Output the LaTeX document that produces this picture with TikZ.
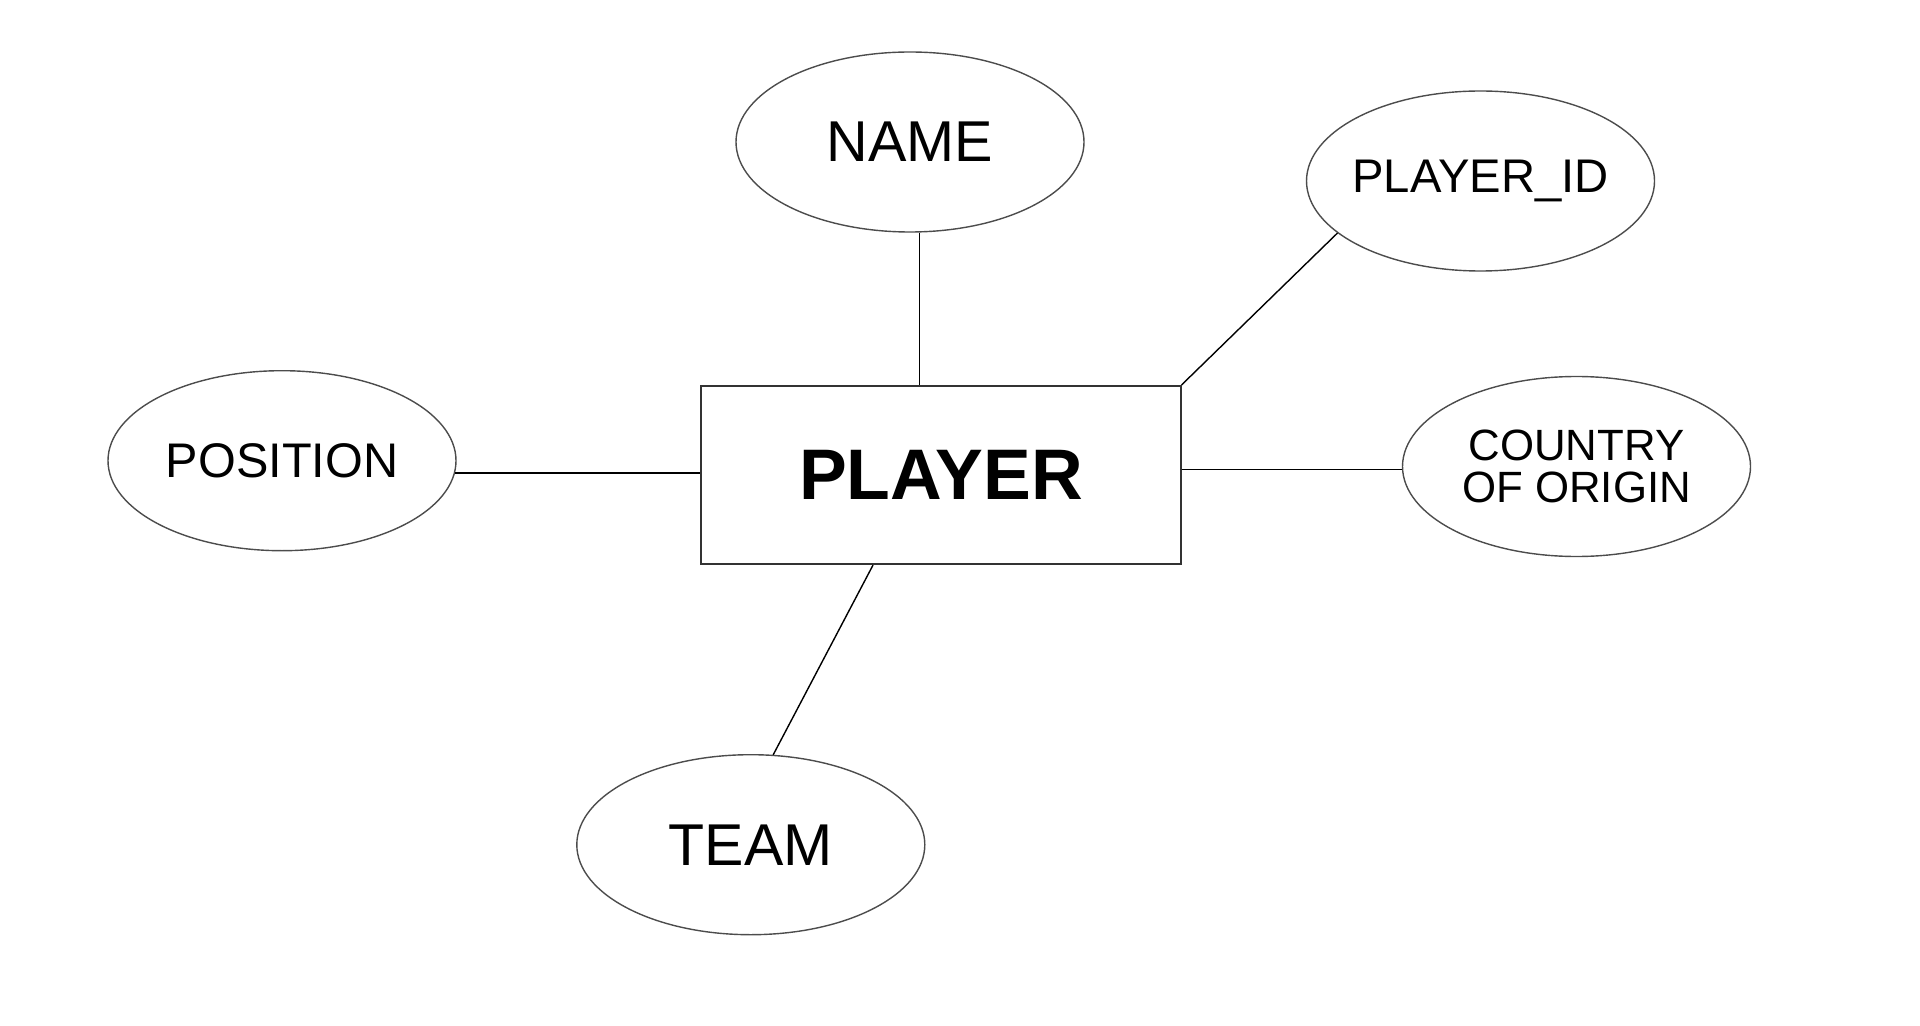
\documentclass[tikz,border=0pt]{standalone}
\usepackage{fontspec}
\setmainfont{Liberation Sans}
\usetikzlibrary{shapes.geometric}
\begin{document}
\begin{tikzpicture}[x=0.5pt,y=-0.5pt,
        attr/.style={ellipse, draw=black!70, line width=0.7pt, inner sep=0pt,
            minimum width=174pt, minimum height=90pt},
        entity/.style={rectangle, draw=black!80, line width=0.9pt, inner sep=0pt,
            minimum width=239.7pt, minimum height=89.2pt},
        link/.style={line width=0.7pt}]
    \useasboundingbox (0,0) rectangle (1920,1026);
    \node[entity, font=\fontsize{35.8}{38}\selectfont\bfseries] (player) at (941,475) {PLAYER};
    \node[attr, font=\fontsize{28.8}{30}\selectfont] (name) at (910,142) {NAME};
    \node[attr, inner xsep=-8pt, font=\fontsize{23.6}{25}\selectfont] (pid) at (1480.5,181) {PLAYER\_ID};
    \node[attr, font=\fontsize{24.3}{26}\selectfont] (pos) at (282,460.7) {POSITION};
    \node[attr, font=\fontsize{21.9}{19.5}\selectfont, align=center] (country) at (1576.5,466.5)
        {\raisebox{1.5pt}{COUNTRY}\\OF ORIGIN};
    \node[attr, font=\fontsize{29.5}{31}\selectfont] (team) at (750.8,844.7) {TEAM};
    \coordinate (teamfoot) at ([xshift=-34pt]player.south);
    \draw[link] (name.-84) -- (name.-84 |- player.north);
    \draw[link] (pid.200) -- (player.north east);
    \draw[link] (pos.-4) -- (pos.-4 -| player.west);
    \draw[link] (country.181 -| player.east) -- (country.181);
    \draw[link] (teamfoot) -- (team.76.5);
\end{tikzpicture}
\end{document}
